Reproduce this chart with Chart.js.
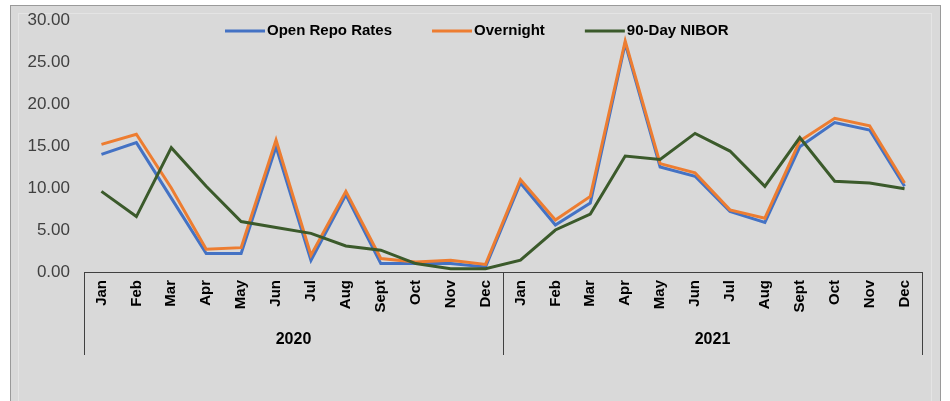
<!DOCTYPE html>
<html>
<head>
<meta charset="utf-8">
<script src="https://cdn.jsdelivr.net/npm/chart.js@4/dist/chart.umd.min.js"></script>
<style>
  html, body { margin: 0; padding: 0; background: #ffffff; }
  body { width: 950px; height: 401px; position: relative; overflow: hidden; }
  #box { position: absolute; left: 10px; top: 5px; width: 931px; height: 400px;
         border: 1px solid #9a9a9a; background: #d9d9d9; box-sizing: border-box; }
  #inner { position: absolute; left: 7px; top: 7px; right: 8px; bottom: -10px;
           border: 1px solid #e4e4e4; }
  #c { position: absolute; left: 11px; top: 6px; }
</style>
</head>
<body>
<div id="box"><div id="inner"></div></div>
<canvas id="c" width="930" height="395"></canvas>
<script>
const months = ["Jan","Feb","Mar","Apr","May","Jun","Jul","Aug","Sept","Oct","Nov","Dec"];
const years = ["2020","2021"];
const seriesNames = ["Open Repo Rates","Overnight","90-Day NIBOR"];
const openRepo  = [14.0, 15.4, 8.8, 2.2, 2.2, 14.9, 1.4, 9.2, 1.0, 1.0, 1.0, 0.6,
                   10.6, 5.6, 8.2, 27.2, 12.5, 11.4, 7.2, 5.9, 14.9, 17.8, 16.9, 10.2];
const overnight = [15.2, 16.4, 10.0, 2.7, 2.9, 15.7, 2.0, 9.6, 1.6, 1.2, 1.4, 0.9,
                   11.0, 6.2, 9.0, 27.5, 12.9, 11.8, 7.4, 6.4, 15.6, 18.3, 17.4, 10.6];
const nibor     = [9.6, 6.6, 14.8, 10.2, 6.0, 5.3, 4.6, 3.1, 2.6, 1.0, 0.4, 0.4,
                   1.4, 5.0, 6.9, 13.8, 13.4, 16.5, 14.4, 10.2, 16.0, 10.8, 10.6, 9.9];
const yTicks = [0, 5, 10, 15, 20, 25, 30];

const colors = ["#4472C4", "#ED7D31", "#3b5a2b"];
const labels = [];
years.forEach(() => months.forEach(m => labels.push(m)));

const legendPlugin = {
  id: 'customLegend',
  afterDraw(chart) {
    const ctx = chart.ctx;
    ctx.save();
    ctx.font = 'bold 15px "Liberation Sans", Arial, sans-serif';
    ctx.textBaseline = 'middle';
    let x = 214;
    const y = 25;
    seriesNames.forEach((name, i) => {
      ctx.strokeStyle = colors[i];
      ctx.lineWidth = 3;
      ctx.beginPath();
      ctx.moveTo(x, y);
      ctx.lineTo(x + 40, y);
      ctx.stroke();
      x += 42;
      ctx.fillStyle = '#000000';
      ctx.textAlign = 'left';
      ctx.fillText(name, x, y);
      x += ctx.measureText(name).width + 40;
    });
    ctx.restore();
  }
};

const yearPlugin = {
  id: 'yearAxis',
  afterDraw(chart) {
    const ctx = chart.ctx;
    const xs = chart.scales.x;
    const area = chart.chartArea;
    const n = months.length;
    const half = (xs.getPixelForValue(1) - xs.getPixelForValue(0)) / 2;
    const bottom = area.bottom + 83;
    ctx.save();
    ctx.strokeStyle = '#404040';
    ctx.lineWidth = 1;
    const bounds = [];
    for (let g = 0; g <= years.length; g++) {
      let px;
      if (g === 0) px = xs.getPixelForValue(0) - half;
      else px = xs.getPixelForValue(g * n - 1) + half;
      bounds.push(px);
      const sx = Math.round(px) + 0.5;
      ctx.beginPath();
      ctx.moveTo(sx, area.bottom);
      ctx.lineTo(sx, bottom);
      ctx.stroke();
    }
    ctx.fillStyle = '#000000';
    ctx.font = 'bold 16px "Liberation Sans", Arial, sans-serif';
    ctx.textAlign = 'center';
    ctx.textBaseline = 'middle';
    years.forEach((yr, g) => {
      ctx.fillText(yr, (bounds[g] + bounds[g + 1]) / 2, area.bottom + 68);
    });
    ctx.restore();
  }
};

const mk = (i, data, order) => ({
  label: seriesNames[i],
  data: data,
  borderColor: colors[i],
  backgroundColor: colors[i],
  borderWidth: 3,
  pointRadius: 0,
  tension: 0,
  fill: false,
  order: order
});

new Chart(document.getElementById('c'), {
  type: 'line',
  data: {
    labels: labels,
    datasets: [mk(0, openRepo, 2), mk(1, overnight, 1), mk(2, nibor, 0)]
  },
  options: {
    responsive: false,
    animation: false,
    devicePixelRatio: 1,
    layout: { padding: { left: 10, top: 14, right: 19, bottom: 0 } },
    plugins: { legend: { display: false }, tooltip: { enabled: false } },
    scales: {
      x: {
        type: 'category',
        offset: true,
        grid: { display: false, drawTicks: false },
        border: { display: true, color: '#404040', width: 1 },
        ticks: {
          autoSkip: false, minRotation: 90, maxRotation: 90, padding: 8,
          color: '#000000',
          font: { family: '"Liberation Sans", Arial, sans-serif', size: 15, weight: 'bold' }
        },
        afterFit(s) { s.height = 129; }
      },
      y: {
        min: 0, max: 30,
        afterBuildTicks(s) { s.ticks = yTicks.map(v => ({ value: v })); },
        grid: { display: false, drawTicks: false },
        border: { display: false },
        ticks: {
          padding: 14,
          color: '#404040',
          font: { family: '"Liberation Sans", Arial, sans-serif', size: 17 },
          callback: v => Number(v).toFixed(2)
        },
        afterFit(s) { s.width = 63; s.paddingTop = 8; s.paddingBottom = 8; }
      }
    }
  },
  plugins: [legendPlugin, yearPlugin]
});
</script>
</body>
</html>
